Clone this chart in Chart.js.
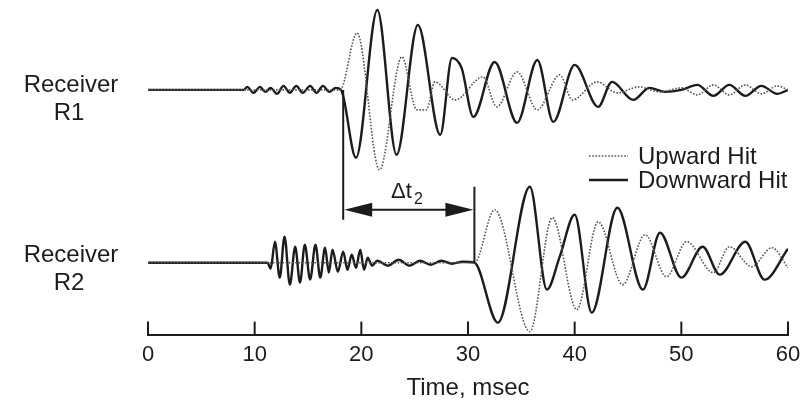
<!DOCTYPE html>
<html>
<head>
<meta charset="utf-8">
<script src="https://cdn.jsdelivr.net/npm/chart.js@4.4.0/dist/chart.umd.min.js"></script>
<style>
  html, body { margin: 0; padding: 0; background: #fff; }
  #wrap { width: 808px; height: 405px; }
</style>
</head>
<body>
<div id="wrap"><canvas id="seismo"></canvas></div>
<script>
// time (msec), amplitude pairs
const r1Upward = [[0,0],[18.0,0],[19.6,57],[21.7,-80],[23.8,33],[25.2,-20],[26.1,-20],[26.9,8],[28.8,-10],[31.4,13],[32.7,-17],[34.6,18],[36.5,-20],[38.6,15],[39.8,-10],[42.1,8],[44.0,-3],[46.0,3],[48.0,-2],[50.0,2],[51.5,-5],[53.0,5],[54.5,-5],[56.0,5],[57.5,-4],[59.0,4],[60,0]];
const r1Downward = [[0,0],[9.0,0],[9.3,3],[9.9,-3],[10.5,3],[11.0,-2],[11.5,2],[12.1,-4],[12.7,4],[13.3,-3],[13.9,4],[14.5,-3],[15.2,4],[15.8,-3],[16.4,4],[17.0,-2],[17.6,2],[18.1,0],[19.5,-68],[21.5,80],[23.3,-65],[25.3,65],[27.4,-45],[28.5,32],[29.4,22],[30.5,-27],[32.5,28],[34.6,-33],[36.5,30],[38.0,-32],[40.0,25],[42.2,-17],[43.5,8],[45.5,-10],[47.0,2],[48.5,-2],[50.0,0],[51.5,5],[53.0,-6],[54.5,5],[56.0,-6],[57.5,4],[59.0,-4],[60,0]];
const r2Upward = [[0,0],[30.6,0],[32.5,53],[35.8,-69],[37.9,45],[40.2,-47],[42.2,41],[44.5,-22],[46.6,28],[48.6,-14],[50.5,21],[53.0,-10],[54.5,16],[56.6,-4],[58.5,15],[60,-5]];
const r2Downward = [[0,0],[11.2,0],[11.5,-6],[11.9,21],[12.35,-15],[12.8,26],[13.3,-22],[13.8,16],[14.25,-20],[14.7,18],[15.2,-17],[15.7,18],[16.15,-15],[16.6,15],[16.95,-10],[17.3,13],[17.8,-9],[18.3,11],[18.7,-7],[19.1,8],[19.5,-5],[19.9,13],[20.25,-7],[20.6,5],[21.0,-3],[21.5,2],[22.5,-3],[23.5,3],[24.5,-3],[25.5,2],[26.5,-2],[27.5,2],[28.5,-1],[29.5,1],[30.6,0],[32.8,-60],[35.8,76],[37.4,-27],[38.6,6],[40.0,48],[41.6,-50],[44.0,55],[46.4,-27],[48.0,30],[50.0,-15],[52.0,16],[53.6,-12],[56.0,21],[57.8,-17],[60,14]];

const receiverNames = ['Receiver R1', 'Receiver R2'];
const seriesNames = ['Upward Hit', 'Downward Hit'];
const tickValues = [0, 10, 20, 30, 40, 50, 60];
const r1Offset = 245;
const r2Offset = 72;
const deltaStart = 18.3;
const deltaEnd = 30.6;

const FONT = '"Liberation Sans", Arial, sans-serif';
const INK = '#1c1c1c';
const DOT = '#555';

const toPoints = (pairs, offset) => pairs.map(p => ({ x: p[0], y: p[1] + offset }));

const solidStyle = { borderColor: INK, borderWidth: 2.4, borderDash: [] };
const dottedStyle = { borderColor: DOT, borderWidth: 1.6, borderDash: [1.6, 1.6] };

const overlay = {
    id: 'overlay',
    afterDraw(chart) {
        const ctx = chart.ctx;
        const xs = chart.scales.x;
        const ys = chart.scales.y;
        const bottom = chart.chartArea.bottom;
        ctx.save();
        ctx.strokeStyle = INK;
        ctx.fillStyle = INK;

        // upward tick marks
        ctx.lineWidth = 2;
        tickValues.forEach(v => {
            const px = xs.getPixelForValue(v);
            ctx.beginPath();
            ctx.moveTo(px, bottom);
            ctx.lineTo(px, bottom - 13);
            ctx.stroke();
        });

        // receiver labels
        ctx.font = '24px ' + FONT;
        ctx.textAlign = 'center';
        ctx.textBaseline = 'middle';
        const parts1 = receiverNames[0].split(' ');
        const parts2 = receiverNames[1].split(' ');
        ctx.fillText(parts1[0], 71, 85);
        ctx.fillText(parts1[1], 69, 113);
        ctx.fillText(parts2[0], 71, 255);
        ctx.fillText(parts2[1], 69, 283);

        // legend
        ctx.textAlign = 'left';
        ctx.font = '24px ' + FONT;
        ctx.lineWidth = 1.6;
        ctx.strokeStyle = DOT;
        ctx.setLineDash([1.6, 1.6]);
        ctx.beginPath(); ctx.moveTo(589, 156); ctx.lineTo(628, 156); ctx.stroke();
        ctx.setLineDash([]);
        ctx.strokeStyle = INK;
        ctx.lineWidth = 2.4;
        ctx.beginPath(); ctx.moveTo(589, 180); ctx.lineTo(628, 180); ctx.stroke();
        ctx.fillText(seriesNames[0], 638, 157);
        ctx.fillText(seriesNames[1], 638, 181);

        // delta t marker
        const xa = xs.getPixelForValue(deltaStart);
        const xb = xs.getPixelForValue(deltaEnd);
        const ya = ys.getPixelForValue(125);
        ctx.lineWidth = 2;
        ctx.beginPath();
        ctx.moveTo(xa, ys.getPixelForValue(r1Offset));
        ctx.lineTo(xa, ys.getPixelForValue(115));
        ctx.moveTo(xb, ys.getPixelForValue(148));
        ctx.lineTo(xb, ys.getPixelForValue(r2Offset));
        ctx.moveTo(xa + 20, ya);
        ctx.lineTo(xb - 20, ya);
        ctx.stroke();
        ctx.beginPath();
        ctx.moveTo(xa + 1, ya); ctx.lineTo(xa + 29, ya - 7); ctx.lineTo(xa + 29, ya + 7); ctx.closePath();
        ctx.moveTo(xb - 1, ya); ctx.lineTo(xb - 29, ya - 7); ctx.lineTo(xb - 29, ya + 7); ctx.closePath();
        ctx.fill();

        ctx.font = '22px ' + FONT;
        ctx.textAlign = 'left';
        ctx.textBaseline = 'alphabetic';
        ctx.fillText('\u0394t', 391, 198);
        ctx.font = '16px ' + FONT;
        ctx.fillText('2', 414, 204);
        ctx.restore();
    }
};

new Chart(document.getElementById('seismo'), {
    type: 'line',
    data: {
        datasets: [
            { label: seriesNames[0] + ' R1', data: toPoints(r1Upward, r1Offset), ...dottedStyle },
            { label: seriesNames[1] + ' R1', data: toPoints(r1Downward, r1Offset), ...solidStyle },
            { label: seriesNames[0] + ' R2', data: toPoints(r2Upward, r2Offset), ...dottedStyle },
            { label: seriesNames[1] + ' R2', data: toPoints(r2Downward, r2Offset), ...solidStyle }
        ]
    },
    options: {
        responsive: true,
        maintainAspectRatio: false,
        animation: false,
        devicePixelRatio: 1,
        layout: { autoPadding: false, padding: { left: 148, right: 20, top: 0, bottom: 2 } },
        elements: {
            point: { radius: 0 },
            line: { cubicInterpolationMode: 'monotone', fill: false }
        },
        plugins: {
            legend: { display: false },
            tooltip: { enabled: false }
        },
        scales: {
            x: {
                type: 'linear',
                min: 0,
                max: 60,
                afterBuildTicks: axis => { axis.ticks = tickValues.map(v => ({ value: v })); },
                afterFit: axis => { axis.paddingLeft = 0; axis.paddingRight = 0; },
                grid: { display: false, drawTicks: false },
                border: { display: true, color: INK, width: 2 },
                ticks: { color: INK, padding: 13, maxRotation: 0, font: { family: FONT, size: 22, lineHeight: 0.7 } },
                title: {
                    display: true,
                    text: 'Time, msec',
                    color: INK,
                    padding: { top: 0, bottom: 3 },
                    font: { family: FONT, size: 24, lineHeight: 1.0 }
                }
            },
            y: { display: false, min: 0, max: 335 }
        }
    },
    plugins: [overlay]
});
</script>
</body>
</html>
